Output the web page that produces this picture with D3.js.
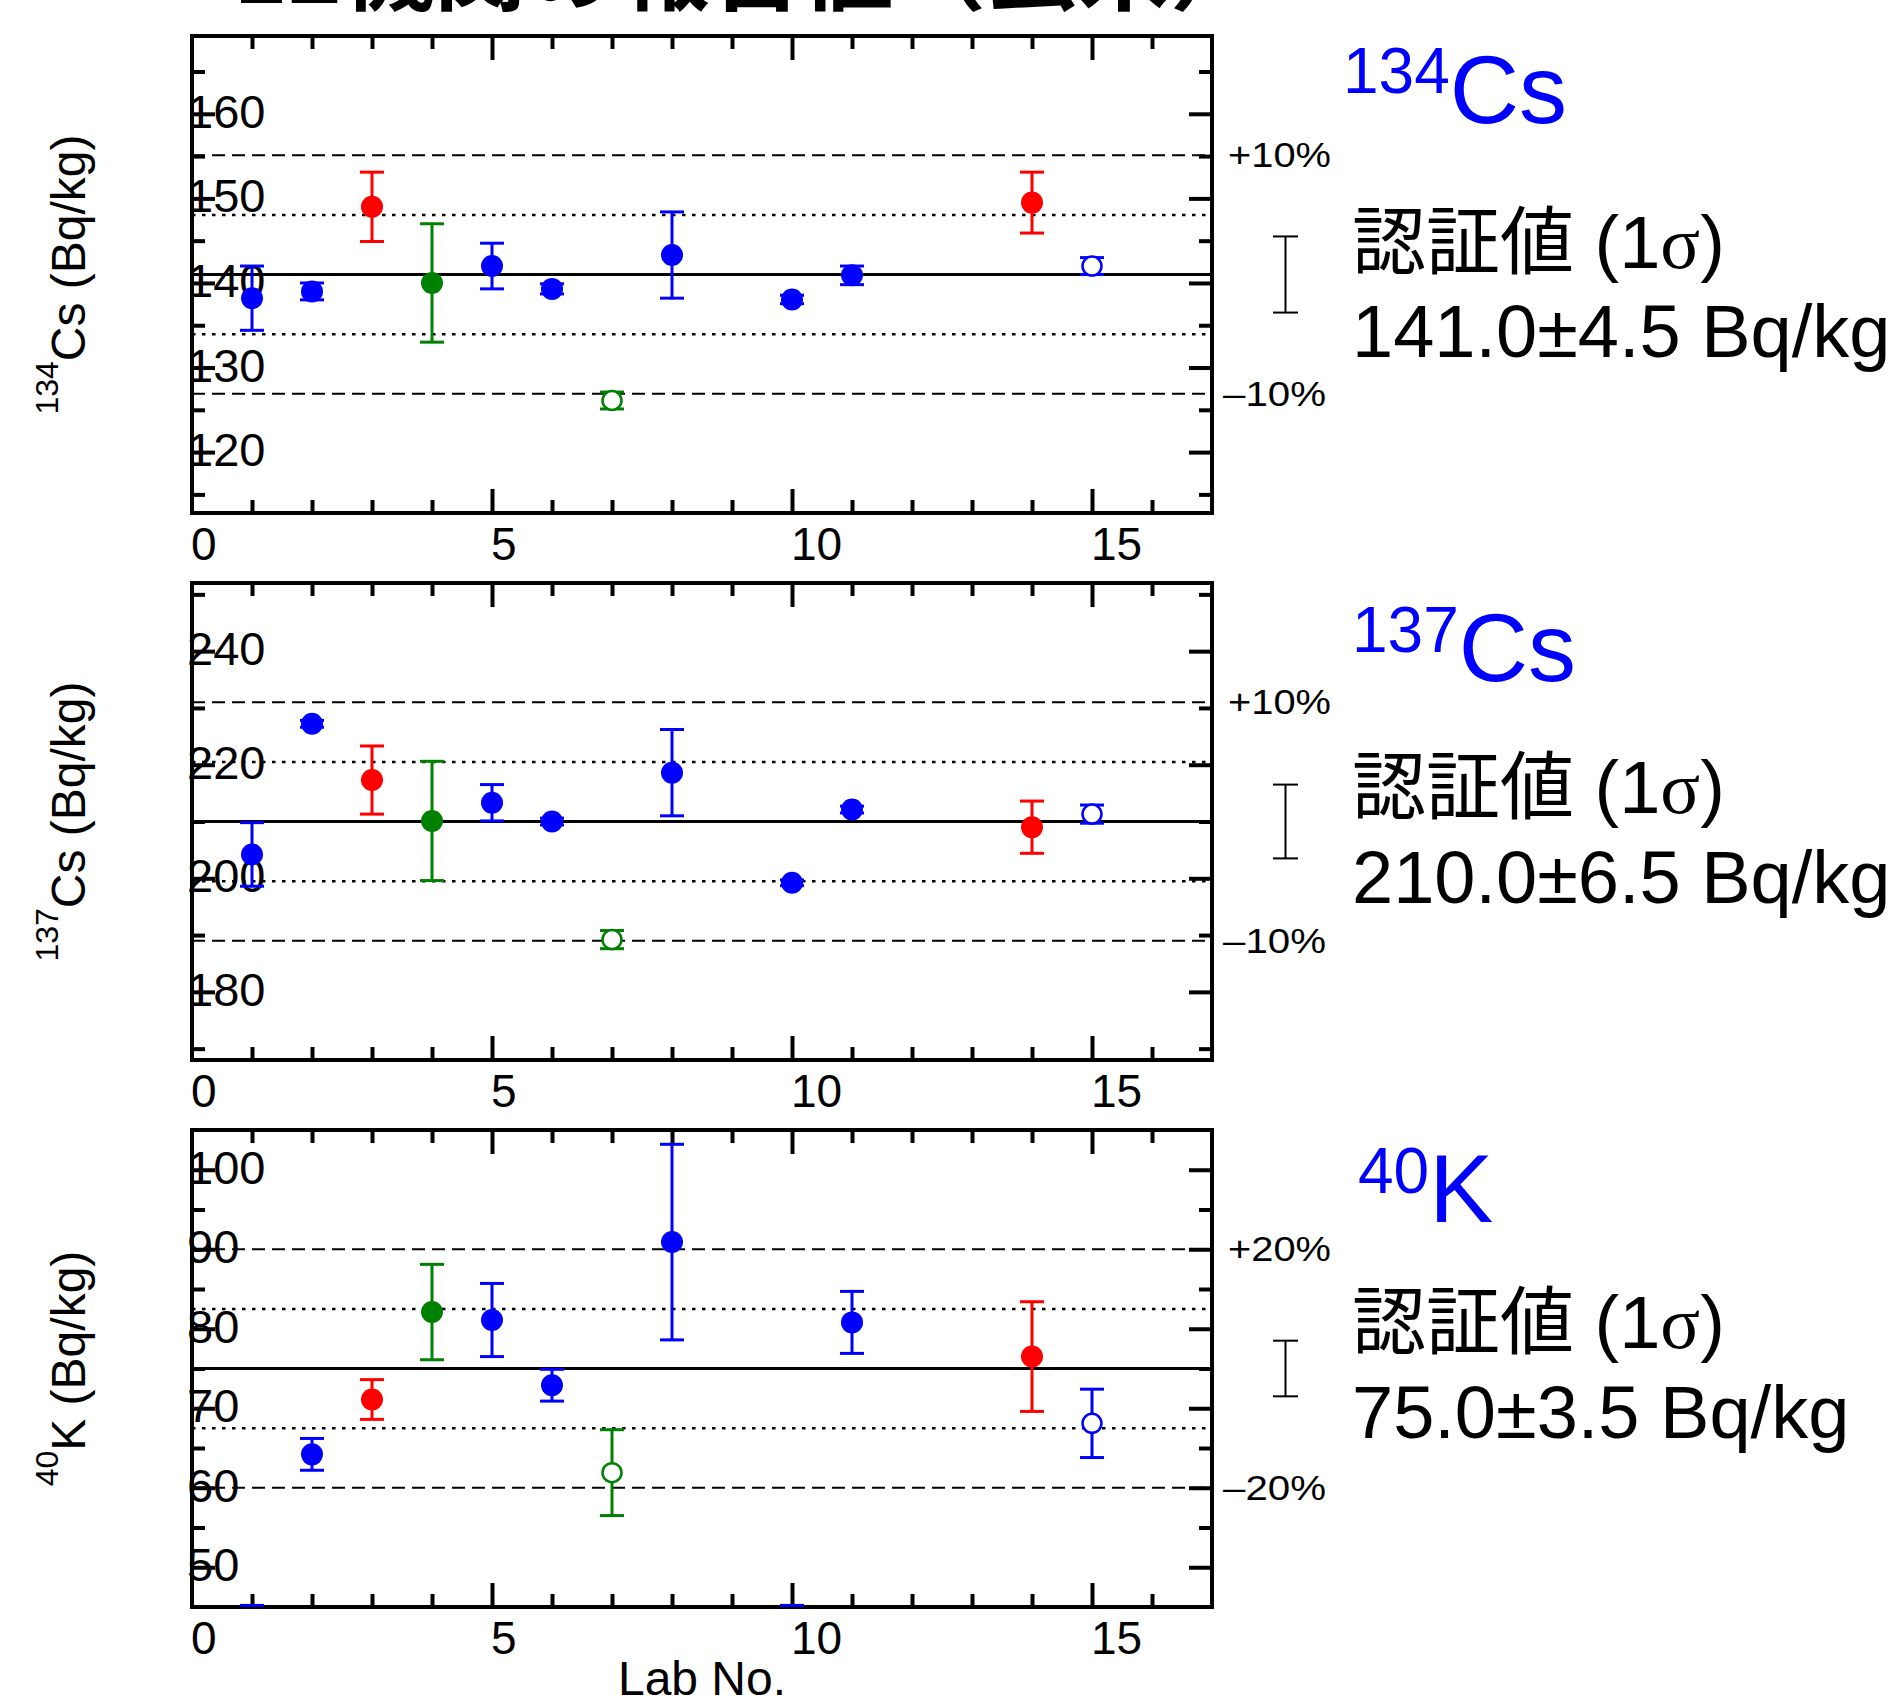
<!DOCTYPE html>
<html>
<head>
<meta charset="utf-8">
<script src="https://cdn.jsdelivr.net/npm/d3@7"></script>
<style>
  body { margin: 0; background: #ffffff; }
  svg { display: block; }
</style>
</head>
<body>
<svg id="chart" width="1903" height="1700"></svg>
<script>
// ---------------- DATA ----------------
const labs = [1, 2, 3, 4, 5, 6, 7, 8, 10, 11, 14, 15];
const markerKind = ["blue", "blue", "red", "green", "blue", "blue", "greenOpen", "blue", "blue", "blue", "red", "blueOpen"];

const cs134Values = [138.2, 139.0, 149.0, 140.0, 142.0, 139.3, 126.1, 143.3, 138.05, 140.9, 149.5, 142.0];
const cs134Errors = [3.8, 1.0, 4.1, 7.0, 2.7, 0.6, 1.0, 5.1, 0.5, 1.1, 3.6, 1.0];

const cs137Values = [204.2, 227.2, 217.3, 210.1, 213.3, 210.0, 189.2, 218.6, 199.2, 212.1, 209.0, 211.3];
const cs137Errors = [5.6, 0.6, 6.0, 10.5, 3.2, 0.6, 1.6, 7.6, 0.5, 0.6, 4.6, 1.6];

const k40Values = [40.0, 64.2, 71.1, 82.1, 81.1, 72.9, 61.9, 90.9, 38.0, 80.8, 76.5, 68.1];
const k40Errors = [5.2, 2.0, 2.5, 6.0, 4.6, 2.0, 5.4, 12.3, 7.2, 3.9, 6.9, 4.3];

const certifiedValues = [141.0, 210.0, 75.0];
const certifiedSigmas = [4.5, 6.5, 3.5];
const bandPercents = [10, 10, 20];
const axisSpreads = [0.2, 0.2, 0.4];

const nuclideMass = ["134", "137", "40"];
const nuclideElement = ["Cs", "Cs", "K"];

const xTickLabels = [0, 5, 10, 15];
const cs134TickLabels = [120, 130, 140, 150, 160];
const cs137TickLabels = [180, 200, 220, 240];
const k40TickLabels = [50, 60, 70, 80, 90, 100];

const titleText = "12機関の報告値（玄米）";
const xAxisTitle = "Lab No.";
const certLabel = "認証値";

// ---------------- LAYOUT ----------------
const W = 1903, Hsvg = 1700;
const L = 192, R = 1212, PH = 477;
const panelTops = [36, 583, 1130];
const colors = { blue: "#0000ff", red: "#ff0000", green: "#008000" };
const SANS = "'Liberation Sans', Arial, Helvetica, sans-serif";
const SERIF = "'Liberation Serif', 'Times New Roman', serif";
const CJK = "'Noto Sans CJK JP', 'Noto Sans CJK SC', sans-serif";

// right side text layout, relative to panel top
const rightText = [
  { supX: 1343, sup: 57, main: 87, kanji: 232, value: 321 },
  { supX: 1352, sup: 69, main: 98, kanji: 230, value: 320 },
  { supX: 1358, sup: 63, main: 92, kanji: 218, value: 308 }
];

const svg = d3.select("#chart");
svg.append("rect").attr("width", W).attr("height", Hsvg).attr("fill", "#fff");

// Title (cut off at top in original)
svg.append("text")
  .attr("x", 1262).attr("y", 3)
  .attr("text-anchor", "end")
  .attr("font-family", CJK)
  .attr("font-weight", 700)
  .attr("font-size", 92)
  .attr("fill", "#000")
  .text(titleText);

const panels = [
  { values: cs134Values, errors: cs134Errors, ticks: cs134TickLabels },
  { values: cs137Values, errors: cs137Errors, ticks: cs137TickLabels },
  { values: k40Values, errors: k40Errors, ticks: k40TickLabels }
];

const x = d3.scaleLinear().domain([0, 17]).range([L, R]);

panels.forEach((p, i) => {
  const top = panelTops[i], bottom = top + PH;
  const c = certifiedValues[i];
  const spread = axisSpreads[i];
  const y = d3.scaleLinear().domain([c * (1 - spread), c * (1 + spread)]).range([bottom, top]);
  const g = svg.append("g");

  const clipId = "clip" + i;
  svg.append("clipPath").attr("id", clipId)
    .append("rect").attr("x", L).attr("y", top - 2).attr("width", R - L).attr("height", PH + 2);

  // reference lines
  const pct = bandPercents[i] / 100;
  const refs = [
    { v: c, dash: null, w: 3 },
    { v: c * (1 + pct), dash: "13,7", w: 2 },
    { v: c * (1 - pct), dash: "13,7", w: 2 },
    { v: c * (1 + pct / 2), dash: "3.5,6.5", w: 2.5 },
    { v: c * (1 - pct / 2), dash: "3.5,6.5", w: 2.5 }
  ];
  g.selectAll("line.ref").data(refs).enter().append("line")
    .attr("class", "ref")
    .attr("x1", L).attr("x2", R)
    .attr("y1", d => y(d.v)).attr("y2", d => y(d.v))
    .attr("stroke", "#000")
    .attr("stroke-width", d => d.w)
    .attr("stroke-dasharray", d => d.dash);

  // ticks with d3 axes
  const major = p.ticks;
  const step = major[1] - major[0];
  const dom = y.domain();
  const minor = major.map(v => v - step / 2).concat([major[major.length - 1] + step / 2])
    .filter(v => v > dom[0] + 0.01 && v < dom[1] - 0.01);
  const xMajor = [5, 10, 15];
  const xMinor = d3.range(1, 17).filter(v => xMajor.indexOf(v) < 0);

  const styleAxis = sel => {
    sel.select(".domain").remove();
    sel.selectAll(".tick line").attr("stroke", "#000").attr("stroke-width", 4);
    sel.selectAll(".tick text").remove();
  };

  g.append("g").attr("transform", `translate(${L},0)`)
    .call(d3.axisLeft(y).tickValues(major).tickSize(-23).tickFormat("")).call(styleAxis);
  g.append("g").attr("transform", `translate(${L},0)`)
    .call(d3.axisLeft(y).tickValues(minor).tickSize(-13).tickFormat("")).call(styleAxis);
  g.append("g").attr("transform", `translate(${R},0)`)
    .call(d3.axisRight(y).tickValues(major).tickSize(-23).tickFormat("")).call(styleAxis);
  g.append("g").attr("transform", `translate(${R},0)`)
    .call(d3.axisRight(y).tickValues(minor).tickSize(-13).tickFormat("")).call(styleAxis);
  g.append("g").attr("transform", `translate(0,${bottom})`)
    .call(d3.axisBottom(x).tickValues(xMajor).tickSize(-24).tickFormat("")).call(styleAxis);
  g.append("g").attr("transform", `translate(0,${bottom})`)
    .call(d3.axisBottom(x).tickValues(xMinor).tickSize(-13).tickFormat("")).call(styleAxis);
  g.append("g").attr("transform", `translate(0,${top})`)
    .call(d3.axisTop(x).tickValues(xMajor).tickSize(-24).tickFormat("")).call(styleAxis);
  g.append("g").attr("transform", `translate(0,${top})`)
    .call(d3.axisTop(x).tickValues(xMinor).tickSize(-13).tickFormat("")).call(styleAxis);

  // frame
  g.append("rect")
    .attr("x", L).attr("y", top).attr("width", R - L).attr("height", PH)
    .attr("fill", "none").attr("stroke", "#000").attr("stroke-width", 4);

  // y tick labels (inside, overlapping the left ticks)
  g.selectAll("text.ytl").data(major).enter().append("text")
    .attr("class", "ytl")
    .attr("x", L - 5)
    .attr("y", d => y(d) + 14)
    .attr("font-family", SANS).attr("font-size", 47)
    .attr("text-anchor", "start").attr("fill", "#000")
    .text(d => d);

  // x tick labels
  g.selectAll("text.xtl").data(xTickLabels).enter().append("text")
    .attr("class", "xtl")
    .attr("x", d => x(d) - 1)
    .attr("y", bottom + 47)
    .attr("font-family", SANS).attr("font-size", 46)
    .attr("text-anchor", "start").attr("fill", "#000")
    .text(d => d);

  // data
  const rows = labs.map((lab, k) => ({ lab, v: p.values[k], e: p.errors[k], kind: markerKind[k] }));
  const dg = g.append("g").attr("clip-path", `url(#${clipId})`);
  const colorOf = kind => colors[kind.replace("Open", "")];
  const eg = dg.selectAll("g.pt").data(rows).enter().append("g").attr("class", "pt");
  eg.append("line")
    .attr("x1", d => x(d.lab)).attr("x2", d => x(d.lab))
    .attr("y1", d => y(d.v - d.e)).attr("y2", d => y(d.v + d.e))
    .attr("stroke", d => colorOf(d.kind)).attr("stroke-width", 3);
  eg.append("line")
    .attr("x1", d => x(d.lab) - 12).attr("x2", d => x(d.lab) + 12)
    .attr("y1", d => y(d.v + d.e)).attr("y2", d => y(d.v + d.e))
    .attr("stroke", d => colorOf(d.kind)).attr("stroke-width", 3);
  eg.append("line")
    .attr("x1", d => x(d.lab) - 12).attr("x2", d => x(d.lab) + 12)
    .attr("y1", d => y(d.v - d.e)).attr("y2", d => y(d.v - d.e))
    .attr("stroke", d => colorOf(d.kind)).attr("stroke-width", 3);
  eg.append("circle")
    .attr("cx", d => x(d.lab)).attr("cy", d => y(d.v))
    .attr("r", d => d.kind.indexOf("Open") >= 0 ? 9.5 : 11)
    .attr("fill", d => d.kind.indexOf("Open") >= 0 ? "#fff" : colorOf(d.kind))
    .attr("stroke", d => d.kind.indexOf("Open") >= 0 ? colorOf(d.kind) : "none")
    .attr("stroke-width", 2.5);

  // percent labels
  const pctTxt = bandPercents[i] + "%";
  [["+" + pctTxt, c * (1 + pct), 1228], ["–" + pctTxt, c * (1 - pct), 1223]].forEach(t => {
    g.append("text")
      .attr("x", t[2]).attr("y", y(t[1]) + 12)
      .attr("font-family", SANS).attr("font-size", 35)
      .attr("textLength", 103).attr("lengthAdjust", "spacingAndGlyphs")
      .attr("fill", "#000")
      .text(t[0]);
  });

  // certified ±1σ bracket
  const s = certifiedSigmas[i];
  const bx = 1285.5;
  g.append("line").attr("x1", bx).attr("x2", bx).attr("y1", y(c - s)).attr("y2", y(c + s))
    .attr("stroke", "#000").attr("stroke-width", 2);
  [c - s, c + s].forEach(v => {
    g.append("line").attr("x1", bx - 12.5).attr("x2", bx + 12.5).attr("y1", y(v)).attr("y2", y(v))
      .attr("stroke", "#000").attr("stroke-width", 2);
  });

  // y axis title (rotated)
  const yt = g.append("text")
    .attr("transform", `translate(85,${top + PH / 2}) rotate(-90)`)
    .attr("text-anchor", "middle")
    .attr("font-family", SANS).attr("fill", "#000");
  yt.append("tspan").attr("font-size", 32).attr("dy", -27).text(nuclideMass[i]);
  yt.append("tspan").attr("font-size", 48).attr("dy", 27).text(nuclideElement[i] + " (Bq/kg)");

  // right-side nuclide label
  const rt = rightText[i];
  const nl = g.append("text").attr("x", rt.supX).attr("y", top + rt.sup)
    .attr("font-family", SANS).attr("fill", colors.blue);
  nl.append("tspan").attr("font-size", 64).text(nuclideMass[i]);
  nl.append("tspan").attr("font-size", 96).attr("dy", rt.main - rt.sup).text(nuclideElement[i]);

  // certified value text
  const ct = g.append("text").attr("x", 1352).attr("y", top + rt.kanji).attr("fill", "#000").attr("font-size", 74);
  ct.append("tspan").attr("font-family", CJK).text(certLabel);
  ct.append("tspan").attr("font-family", SANS).text(" (1");
  ct.append("tspan").attr("font-family", SERIF).text("σ");
  ct.append("tspan").attr("font-family", SANS).text(")");

  g.append("text").attr("x", 1352).attr("y", top + rt.value)
    .attr("font-family", SANS).attr("font-size", 74).attr("fill", "#000")
    .text(c.toFixed(1) + "±" + s.toFixed(1) + " Bq/kg");
});

// x axis title
svg.append("text")
  .attr("x", (L + R) / 2).attr("y", 1695)
  .attr("text-anchor", "middle")
  .attr("font-family", SANS).attr("font-size", 48).attr("fill", "#000")
  .text(xAxisTitle);
</script>
</body>
</html>
